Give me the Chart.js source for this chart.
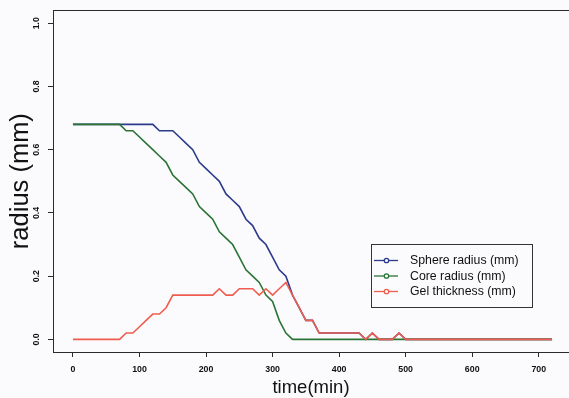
<!DOCTYPE html>
<html>
<head>
<meta charset="utf-8">
<script src="https://cdn.jsdelivr.net/npm/chart.js@4/dist/chart.umd.min.js"></script>
<style>
  html, body { margin: 0; padding: 0; background: #fbfbfd; }
  #wrap { width: 569px; height: 398px; }
</style>
</head>
<body>
<div id="wrap"><canvas id="radiusChart" width="569" height="398"></canvas></div>
<script>
// time in minutes
const times = [0, 10, 20, 30, 40, 50, 60, 70, 80, 90, 100, 110, 120, 130, 140, 150, 160, 170, 180, 190,
    200, 210, 220, 230, 240, 250, 260, 270, 280, 290, 300, 310, 320, 330, 340, 350, 360, 370, 380, 390,
    400, 410, 420, 430, 440, 450, 460, 470, 480, 490, 500, 510, 520, 530, 540, 550, 560, 570, 580, 590,
    600, 610, 620, 630, 640, 650, 660, 670, 680, 690, 700, 710, 720];

const sphereRadius = [0.68, 0.68, 0.68, 0.68, 0.68, 0.68, 0.68, 0.68, 0.68, 0.68, 0.68, 0.68, 0.68,
    0.66, 0.66, 0.66, 0.64, 0.62, 0.60, 0.56, 0.54, 0.52, 0.50, 0.46, 0.44, 0.42, 0.38, 0.36, 0.32,
    0.30, 0.26, 0.22, 0.20, 0.14, 0.10, 0.06, 0.06, 0.02, 0.02, 0.02, 0.02, 0.02, 0.02, 0.02, 0,
    0.02, 0, 0, 0, 0.02, 0, 0, 0, 0, 0, 0, 0, 0, 0, 0, 0, 0, 0, 0, 0, 0, 0, 0, 0, 0, 0, 0, 0];

const coreRadius = [0.68, 0.68, 0.68, 0.68, 0.68, 0.68, 0.68, 0.68, 0.66, 0.66, 0.64, 0.62, 0.60,
    0.58, 0.56, 0.52, 0.50, 0.48, 0.46, 0.42, 0.40, 0.38, 0.34, 0.32, 0.30, 0.26, 0.22, 0.20, 0.18,
    0.14, 0.12, 0.06, 0.02, 0, 0, 0, 0, 0, 0, 0, 0, 0, 0, 0, 0, 0, 0, 0, 0, 0, 0, 0, 0, 0, 0, 0, 0,
    0, 0, 0, 0, 0, 0, 0, 0, 0, 0, 0, 0, 0, 0, 0, 0];

const gelThickness = [0, 0, 0, 0, 0, 0, 0, 0, 0.02, 0.02, 0.04, 0.06, 0.08, 0.08, 0.10, 0.14, 0.14,
    0.14, 0.14, 0.14, 0.14, 0.14, 0.16, 0.14, 0.14, 0.16, 0.16, 0.16, 0.14, 0.16, 0.14, 0.16, 0.18,
    0.14, 0.10, 0.06, 0.06, 0.02, 0.02, 0.02, 0.02, 0.02, 0.02, 0.02, 0, 0.02, 0, 0, 0, 0.02, 0, 0,
    0, 0, 0, 0, 0, 0, 0, 0, 0, 0, 0, 0, 0, 0, 0, 0, 0, 0, 0, 0, 0];

const seriesLabels = ["Sphere radius (mm)", "Core radius (mm)", "Gel thickness (mm)"];
const xTicks = [0, 100, 200, 300, 400, 500, 600, 700];
const yTicks = [0, 0.2, 0.4, 0.6, 0.8, 1.0];
const yTickLabels = ["0.0", "0.2", "0.4", "0.6", "0.8", "1.0"];

const FONT = "'Liberation Sans', Arial, Helvetica, sans-serif";
const colors = ["#2c3b8a", "#2a7436", "#ee5d50"];

function toPoints(values) {
    return times.map(function (t, i) { return { x: t, y: values[i] }; });
}

// box around plot + legend in the lower right area
const framePlugin = {
    id: "frame",
    afterDraw(chart) {
        const ctx = chart.ctx;
        const a = chart.chartArea;
        ctx.save();
        ctx.strokeStyle = "#2a2a2a";
        ctx.lineWidth = 1;
        ctx.strokeRect(Math.round(a.left) + 0.5, Math.round(a.top) + 0.5, a.right - a.left + 10, Math.round(a.bottom - a.top));

        // legend
        const lx = 371.5, ly = 244.5, lw = 161, lh = 63;
        ctx.fillStyle = "#fbfbfd";
        ctx.fillRect(lx, ly, lw, lh);
        ctx.strokeStyle = "#333";
        ctx.strokeRect(lx, ly, lw, lh);
        ctx.font = "12.3px " + FONT;
        ctx.textBaseline = "middle";
        const rows = [260.5, 276, 291.5];
        chart.data.datasets.forEach(function (ds, i) {
            const y = rows[i];
            ctx.strokeStyle = ds.borderColor;
            ctx.lineWidth = 1.3;
            ctx.beginPath();
            ctx.moveTo(374, y);
            ctx.lineTo(398, y);
            ctx.stroke();
            ctx.beginPath();
            ctx.arc(386.5, y, 2.2, 0, Math.PI * 2);
            ctx.fillStyle = "#fbfbfd";
            ctx.fill();
            ctx.stroke();
            ctx.fillStyle = "#111";
            ctx.fillText(ds.label, 410, y + 0.5);
        });
        ctx.restore();
    }
};

const ctx = document.getElementById("radiusChart").getContext("2d");
const radiusChart = new Chart(ctx, {
    type: "line",
    data: {
        datasets: [
            { label: seriesLabels[0], data: toPoints(sphereRadius), borderColor: colors[0], order: 2 },
            { label: seriesLabels[1], data: toPoints(coreRadius), borderColor: colors[1], order: 1 },
            { label: seriesLabels[2], data: toPoints(gelThickness), borderColor: colors[2], order: 0 },
        ],
    },
    options: {
        responsive: false,
        animation: false,
        devicePixelRatio: 1,
        layout: { padding: { top: 9, right: 0, left: 0, bottom: 0 } },
        elements: {
            line: { borderWidth: 1.6, tension: 0, fill: false },
            point: { radius: 0 },
        },
        plugins: {
            legend: { display: false },
            tooltip: { enabled: false },
        },
        scales: {
            x: {
                type: "linear",
                position: "bottom",
                min: -30,
                max: 745.5,
                afterBuildTicks(scale) { scale.ticks = xTicks.map(function (v) { return { value: v }; }); },
                afterFit(scale) { scale.height = 46; },
                grid: { drawOnChartArea: false, drawTicks: true, tickLength: 5, color: "#2a2a2a" },
                border: { display: false },
                ticks: {
                    color: "#111",
                    padding: 7,
                    maxRotation: 0,
                    autoSkip: false,
                    font: { family: FONT, size: 8.8, weight: "bold" },
                    callback: function (v) { return String(v); },
                },
                title: {
                    display: true,
                    text: "time(min)",
                    color: "#111",
                    padding: { top: 0, bottom: 0 },
                    font: { family: FONT, size: 18.5, lineHeight: 1.1 },
                },
            },
            y: {
                type: "linear",
                min: -0.04,
                max: 1.041,
                afterBuildTicks(scale) { scale.ticks = yTicks.map(function (v) { return { value: v }; }); },
                afterFit(scale) { scale.width = 53; },
                grid: { drawOnChartArea: false, drawTicks: true, tickLength: 5, color: "#2a2a2a" },
                border: { display: false },
                ticks: {
                    color: "#111",
                    padding: 5,
                    minRotation: 90,
                    maxRotation: 90,
                    crossAlign: "center",
                    autoSkip: false,
                    font: { family: FONT, size: 8.8, weight: "bold" },
                    callback: function (v) {
                        const i = yTicks.indexOf(v);
                        return i >= 0 ? yTickLabels[i] : "";
                    },
                },
                title: {
                    display: true,
                    text: "radius (mm)",
                    color: "#111",
                    padding: { top: 6, bottom: 0 },
                    font: { family: FONT, size: 25.5, lineHeight: 1.2 },
                },
            },
        },
    },
    plugins: [framePlugin],
});
</script>
</body>
</html>
